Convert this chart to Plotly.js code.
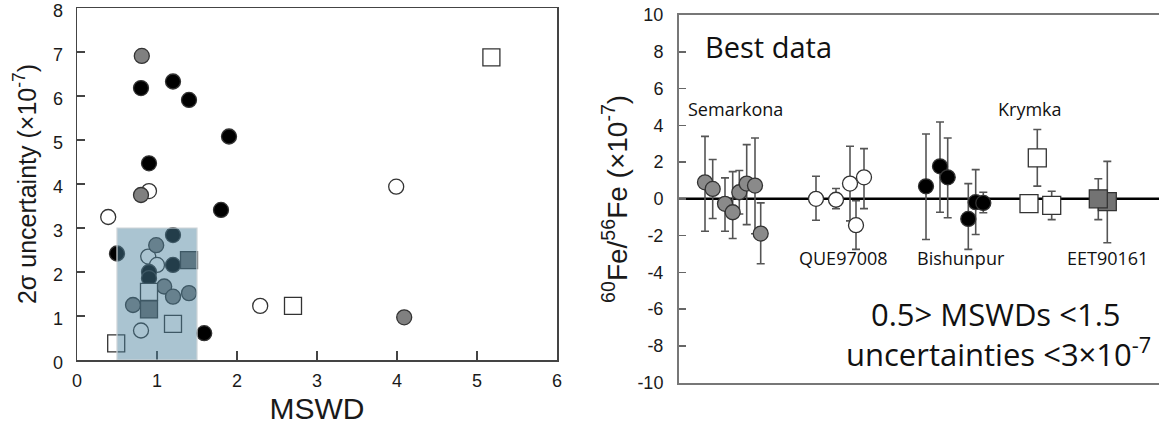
<!DOCTYPE html>
<html>
<head>
<meta charset="utf-8">
<script src="https://cdn.plot.ly/plotly-3.0.1.min.js"></script>
<style>html,body{margin:0;padding:0;background:#fff;}#chart{width:1159px;height:427px;}</style>
</head>
<body>
<div id="chart"></div>
<script>
// ---------- Left panel: 2σ uncertainty vs MSWD ----------
const openCircleX  = [0.90, 0.39, 3.99, 2.29, 0.89, 1.00, 0.80];
const openCircleY  = [3.84, 3.25, 3.94, 1.23, 2.35, 2.16, 0.67];
const grayCircleX  = [0.81, 0.80, 4.09, 0.99, 1.09, 1.20, 1.40, 0.70];
const grayCircleY  = [6.91, 3.75, 0.97, 2.61, 1.67, 1.44, 1.52, 1.25];
const blackCircleX = [0.80, 1.20, 1.40, 1.90, 0.90, 1.80, 0.50, 1.59, 1.20, 1.20, 0.90, 0.90];
const blackCircleY = [6.18, 6.33, 5.91, 5.08, 4.47, 3.41, 2.42, 0.61, 2.84, 2.16, 2.00, 1.86];
const openSquareX  = [5.18, 2.70, 0.90, 1.20, 0.49];
const openSquareY  = [6.88, 1.23, 1.55, 0.82, 0.38];
const graySquareX  = [1.40, 0.90];
const graySquareY  = [2.27, 1.15];
const xTicksLeft = [0, 1, 2, 3, 4, 5, 6];
const yTicksLeft = [0, 1, 2, 3, 4, 5, 6, 7, 8];

// ---------- Right panel: 60Fe/56Fe by sample ----------
const semPos   = [2.60, 3.37, 4.60, 5.37, 6.03, 6.77, 7.60, 8.17];
const semVal   = [0.90, 0.54, -0.27, -0.73, 0.36, 0.83, 0.72, -1.89];
const semUp    = [3.40, 2.14, 1.14, 1.48, 1.54, 2.95, 3.31, -0.22];
const semLo    = [-1.76, -1.07, -1.76, -2.16, -0.82, -1.40, -1.90, -3.53];

const quePos   = [13.70, 15.70, 17.10, 18.50, 17.70];
const queVal   = [0.00, -0.05, 0.83, 1.17, -1.43];
const queUp    = [1.23, 0.56, 2.86, 2.73, -0.10];
const queLo    = [-1.16, -0.54, -1.20, -0.53, -2.75];

const bisPos   = [24.70, 26.10, 26.87, 28.93, 29.67, 30.43];
const bisVal   = [0.68, 1.77, 1.17, -1.09, -0.18, -0.22];
const bisUp    = [3.53, 4.18, 3.31, 0.83, 1.59, 0.36];
const bisLo    = [-2.21, -0.73, -1.03, -2.75, -1.94, -0.76];

const kryPos   = [35.83, 35.00, 37.27];
const kryVal   = [2.23, -0.26, -0.35];
const kryUp    = [3.77, -0.26, 0.41];
const kryLo    = [0.69, -0.26, -1.13];

const eetPos   = [42.83, 41.93];
const eetVal   = [-0.15, 0.00];
const eetUp    = [2.04, 1.09];
const eetLo    = [-2.39, -1.13];

const yTicksRight = [-10, -8, -6, -4, -2, 0, 2, 4, 6, 8, 10];
const yTickTextRight = ['-10', '-8', '-6', '-4', '-2', '0', '2', '4', '6', '8', '10'];

const W = 1159, H = 427;
const px = v => v / W;
const py = v => 1 - v / H;

const plus  = (up, val) => up.map((u, i) => u - val[i]);
const minus = (lo, val) => lo.map((l, i) => val[i] - l);

const edge = '#333';
const axisFont = {family: 'Liberation Sans, Arial, sans-serif', size: 18, color: '#1a1a1a'};
const labFont = 'Open Sans, Noto Sans, sans-serif';

function leftTrace(x, y, symbol, fill, size) {
  return {x, y, type: 'scatter', mode: 'markers', xaxis: 'x', yaxis: 'y', hoverinfo: 'skip',
    marker: {symbol, size, color: fill, line: {color: edge, width: 1.3}}};
}
function rightTrace(x, y, up, lo, symbol, fill, size) {
  return {x, y, type: 'scatter', mode: 'markers', xaxis: 'x2', yaxis: 'y2', hoverinfo: 'skip',
    error_y: {type: 'data', symmetric: false, array: plus(up, y), arrayminus: minus(lo, y),
      color: '#555', thickness: 1.6, width: 4},
    marker: {symbol, size, color: fill, line: {color: edge, width: 1.3}}};
}

const data = [
  leftTrace(openCircleX, openCircleY, 'circle', '#ffffff', 15),
  leftTrace(grayCircleX, grayCircleY, 'circle', '#808080', 15),
  leftTrace(blackCircleX, blackCircleY, 'circle', '#000000', 15),
  leftTrace(openSquareX, openSquareY, 'square', '#ffffff', 17),
  leftTrace(graySquareX, graySquareY, 'square', '#6e6e6e', 17),
  rightTrace(semPos, semVal, semUp, semLo, 'circle', '#8a8a8a', 15),
  rightTrace(quePos, queVal, queUp, queLo, 'circle', '#ffffff', 15),
  rightTrace(bisPos, bisVal, bisUp, bisLo, 'circle', '#000000', 15),
  rightTrace(kryPos, kryVal, kryUp, kryLo, 'square', '#ffffff', 18),
  rightTrace(eetPos, eetVal, eetUp, eetLo, 'square', '#737373', 18)
];

const layout = {
  width: W, height: H,
  margin: {l: 0, r: 0, t: 0, b: 0},
  paper_bgcolor: '#ffffff', plot_bgcolor: '#ffffff',
  showlegend: false,
  xaxis: {
    domain: [px(77), px(557)], range: [0, 6], anchor: 'y',
    tickvals: xTicksLeft, ticks: 'inside', ticklen: 9, tickwidth: 1.5, tickcolor: '#444',
    showline: true, mirror: true, linecolor: '#444', linewidth: 1.5,
    showgrid: false, zeroline: false, tickfont: axisFont, ticklabelstandoff: 4, ticklabeloverflow: 'allow',
    title: {text: 'MSWD', font: {family: 'Liberation Sans, Arial, sans-serif', size: 30, color: '#1a1a1a'}, standoff: 8}
  },
  yaxis: {
    domain: [py(360), py(8)], range: [0, 8], anchor: 'x',
    tickvals: yTicksLeft, ticks: 'inside', ticklen: 8, tickwidth: 1.5, tickcolor: '#444',
    showline: true, mirror: true, linecolor: '#444', linewidth: 1.5,
    showgrid: false, zeroline: false, tickfont: axisFont, ticklabelstandoff: 9, ticklabelshift: 3, ticklabeloverflow: 'allow',
    title: {text: '2σ uncertainty (×10<sup>-7</sup>)', font: {family: 'Liberation Sans, Arial, sans-serif', size: 25, color: '#1a1a1a'}, standoff: 9}
  },
  xaxis2: {
    domain: [px(679), 1], range: [0, 48], anchor: 'y2',
    showticklabels: false, ticks: '', showline: true, mirror: true, linecolor: '#777', linewidth: 2,
    showgrid: false, zeroline: false
  },
  yaxis2: {
    domain: [py(382.7), py(15)], range: [-10, 10], anchor: 'x2',
    tickvals: yTicksRight, ticktext: yTickTextRight, ticks: 'inside', ticklen: 7, tickwidth: 1.5, tickcolor: '#666',
    showline: true, mirror: false, linecolor: '#777', linewidth: 2,
    showgrid: false, zeroline: false, tickfont: axisFont, ticklabelstandoff: 10, ticklabeloverflow: 'allow',
    title: {text: '<sup>60</sup>Fe/<sup>56</sup>Fe (×10<sup>-7</sup>)', font: {family: 'Liberation Sans, Arial, sans-serif', size: 28, color: '#1a1a1a'}, standoff: 2}
  },
  shapes: [
    {type: 'rect', xref: 'x', yref: 'y', x0: 0.5, x1: 1.5, y0: 0, y1: 3, layer: 'above',
     fillcolor: 'rgba(74,130,157,0.47)', line: {color: 'rgba(205,212,216,1)', width: 1.2}},
    {type: 'line', xref: 'x2', yref: 'y2', x0: 0, x1: 48, y0: 0, y1: 0, layer: 'below',
     line: {color: '#000', width: 2.5}}
  ],
  annotations: [
    {text: 'Best data', xref: 'x2', yref: 'y2', x: 2.4, y: 8.28, xanchor: 'left', yanchor: 'middle', showarrow: false, font: {family: labFont, size: 29, color: '#111'}},
    {text: 'Semarkona', xref: 'x2', yref: 'y2', x: 5.6, y: 4.9, showarrow: false, font: {family: labFont, size: 18, color: '#111'}},
    {text: 'QUE97008', xref: 'x2', yref: 'y2', x: 16.4, y: -3.19, showarrow: false, font: {family: labFont, size: 18, color: '#111'}},
    {text: 'Bishunpur', xref: 'x2', yref: 'y2', x: 28.2, y: -3.19, showarrow: false, font: {family: labFont, size: 18, color: '#111'}},
    {text: 'Krymka', xref: 'x2', yref: 'y2', x: 35.1, y: 4.9, showarrow: false, font: {family: labFont, size: 18, color: '#111'}},
    {text: 'EET90161', xref: 'x2', yref: 'y2', x: 42.8, y: -3.19, showarrow: false, font: {family: labFont, size: 18, color: '#111'}},
    {text: '0.5> MSWDs <1.5', xref: 'x2', yref: 'y2', x: 31.7, y: -6.24, showarrow: false, font: {family: labFont, size: 31, color: '#111'}},
    {text: 'uncertainties <3×10<sup>-7</sup>', xref: 'x2', yref: 'y2', x: 47.4, y: -8.35, xanchor: 'right', showarrow: false, font: {family: labFont, size: 31, color: '#111'}}
  ]
};

Plotly.newPlot('chart', data, layout, {staticPlot: true, displayModeBar: false});
</script>
</body>
</html>
